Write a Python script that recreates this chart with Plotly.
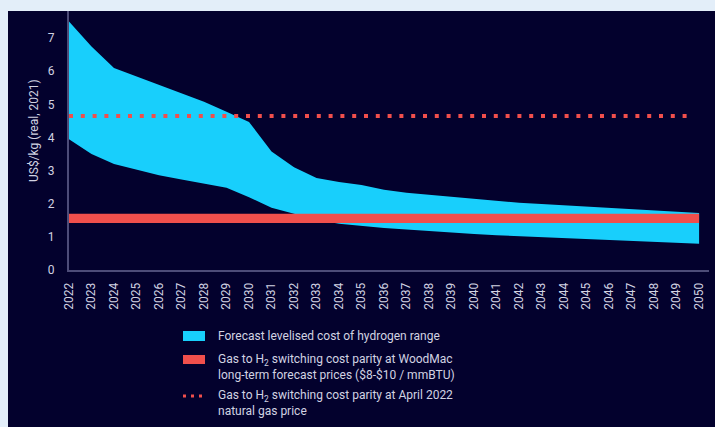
import plotly.graph_objects as go

# Forecast levelised cost of hydrogen (US$/kg, real 2021)
years = list(range(2022, 2051))
lcoh_high = [7.5, 6.75, 6.1, 5.85, 5.6, 5.35, 5.08, 4.78, 4.47, 3.58, 3.1, 2.78, 2.66,
             2.57, 2.42, 2.33, 2.27, 2.21, 2.14, 2.08, 2.03, 1.99, 1.95, 1.91, 1.88,
             1.84, 1.80, 1.76, 1.72]
lcoh_low = [3.95, 3.5, 3.2, 3.03, 2.86, 2.73, 2.61, 2.48, 2.2, 1.88, 1.7, 1.52, 1.4,
            1.33, 1.27, 1.22, 1.17, 1.13, 1.09, 1.05, 1.02, 0.99, 0.96, 0.93, 0.9,
            0.87, 0.85, 0.82, 0.79]

# Gas-to-H2 switching cost parity levels
parity_longterm_low = 1.42   # $8/mmBTU
parity_longterm_high = 1.70  # $10/mmBTU
parity_april_2022 = 4.65

y_ticks = [0, 1, 2, 3, 4, 5, 6, 7]
y_title = "US$/kg (real, 2021)"
legend_labels = [
    "Forecast levelised cost of hydrogen range",
    "Gas to H<sub>2</sub> switching cost parity at WoodMac<br>long-term forecast prices ($8-$10 / mmBTU)",
    "Gas to H<sub>2</sub> switching cost parity at April 2022<br>natural gas price",
]

CYAN = "#18cffc"
RED = "#f04f4c"
NAVY = "#03012d"
PAGE = "#e3eef9"
TEXT = "#d2d3e2"
AXIS = "#4d4c78"
FONT = "Roboto"

fig = go.Figure()

# LCOH range band
fig.add_trace(go.Scatter(x=years, y=lcoh_low, mode="lines", line=dict(width=0, color=CYAN),
                         hoverinfo="skip", showlegend=False))
fig.add_trace(go.Scatter(x=years, y=lcoh_high, mode="lines", line=dict(width=0, color=CYAN),
                         fill="tonexty", fillcolor=CYAN, showlegend=False))

# Long-term parity band
x_band = [years[0], years[-1]]
fig.add_trace(go.Scatter(x=x_band, y=[parity_longterm_low] * 2, mode="lines",
                         line=dict(width=0, color=RED), hoverinfo="skip", showlegend=False))
fig.add_trace(go.Scatter(x=x_band, y=[parity_longterm_high] * 2, mode="lines",
                         line=dict(width=0, color=RED), fill="tonexty", fillcolor=RED,
                         showlegend=False))

# April 2022 parity (dotted)
fig.add_trace(go.Scatter(x=[years[0], years[-1] - 0.4], y=[parity_april_2022] * 2, mode="lines",
                         line=dict(width=4, color=RED, dash="4px,7.8px"), showlegend=False))

# Plot area spans x 69..709, y 11..270 px
L, R, T, B = 69, 6, 11, 157
W, H = 715, 427
pw, ph = W - L - R, H - T - B


def px_x(px):
    return (px - L) / pw


def px_y(py):
    return (H - B - py) / ph


shapes = [
    # dark panel
    dict(type="rect", xref="paper", yref="paper", x0=px_x(8), x1=px_x(720),
         y0=px_y(430), y1=px_y(11), fillcolor=NAVY, line=dict(width=0), layer="below"),
    # legend swatches
    dict(type="rect", xref="paper", yref="paper", x0=px_x(183), x1=px_x(205),
         y0=px_y(341), y1=px_y(331), fillcolor=CYAN, line=dict(width=0)),
    dict(type="rect", xref="paper", yref="paper", x0=px_x(183), x1=px_x(205),
         y0=px_y(364), y1=px_y(355), fillcolor=RED, line=dict(width=0)),
    dict(type="line", xref="paper", yref="paper", x0=px_x(183), x1=px_x(205),
         y0=px_y(396), y1=px_y(396), line=dict(color=RED, width=3, dash="3px,5px")),
]

annotations = [
    dict(text=y_title, xref="paper", yref="paper", x=px_x(25), y=px_y(131),
         textangle=-90, showarrow=False, font=dict(family=FONT, size=12, color=TEXT)),
]
legend_y = [336, 367, 403]
for label, ly in zip(legend_labels, legend_y):
    annotations.append(dict(text=label, xref="paper", yref="paper", x=px_x(216), y=px_y(ly),
                            xanchor="left", yanchor="middle", align="left", showarrow=False,
                            font=dict(family=FONT, size=12, color=TEXT)))

fig.update_layout(
    width=W, height=H,
    margin=dict(l=L, r=R, t=T, b=B),
    paper_bgcolor=PAGE,
    plot_bgcolor=NAVY,
    font=dict(family=FONT, size=12, color=TEXT),
    shapes=shapes,
    annotations=annotations,
    showlegend=False,
    xaxis=dict(range=[2022, 2050.44], tickmode="array", tickvals=years,
               ticktext=[str(y) for y in years], tickangle=-90, showgrid=False,
               zeroline=False, showline=True, linecolor=AXIS, linewidth=2,
               ticks="", ticklabelstandoff=6, tickfont=dict(size=12, color=TEXT)),
    yaxis=dict(range=[0, 7.82], tickmode="array", tickvals=y_ticks, showgrid=False,
               zeroline=False, showline=True, linecolor=AXIS, linewidth=2,
               ticks="", ticklabelstandoff=10, tickfont=dict(size=12, color=TEXT)),
)

fig.write_html("out.html")
